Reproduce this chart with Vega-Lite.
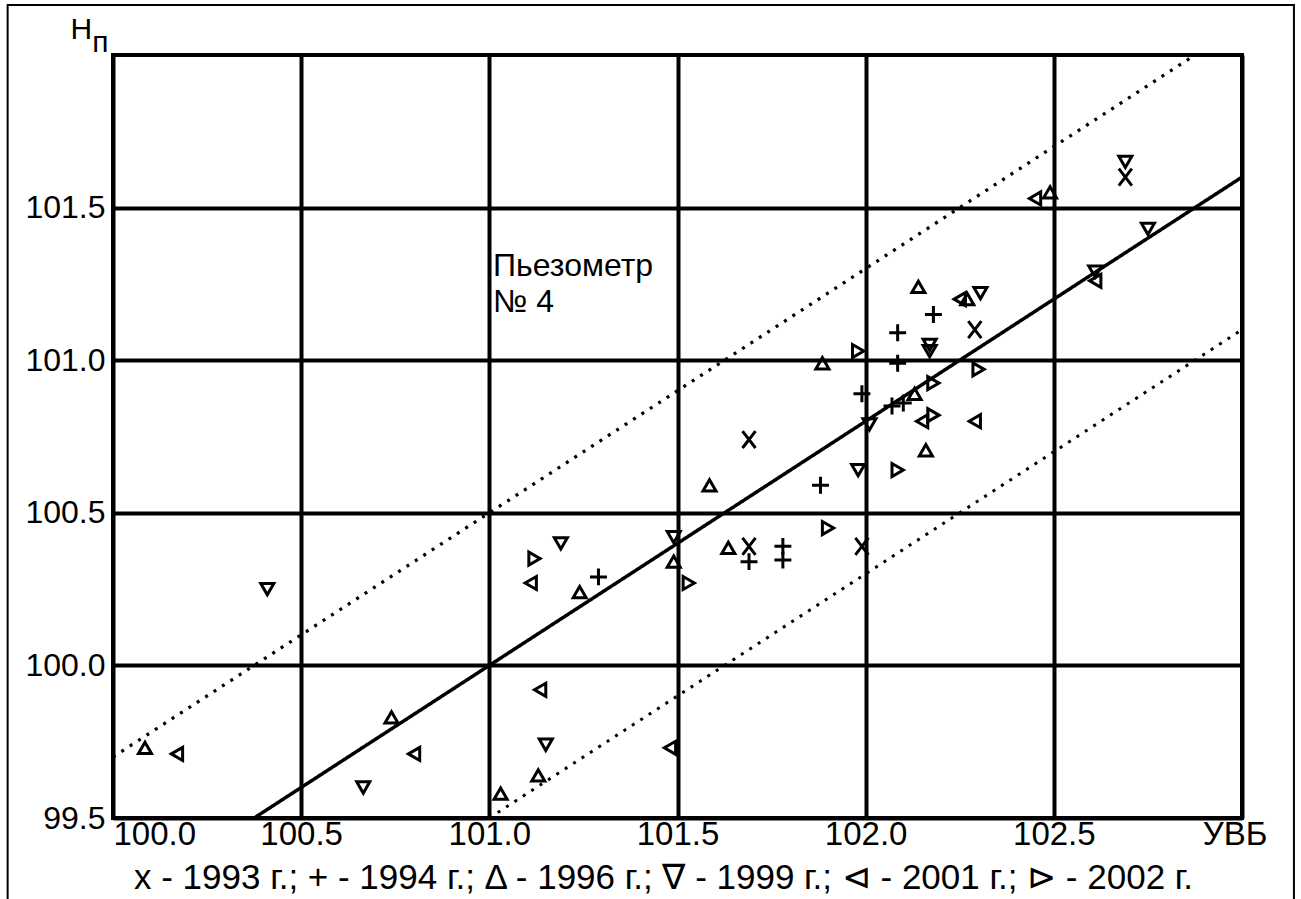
{
  "$schema": "https://vega.github.io/schema/vega-lite/v6.json",
  "width": 1129,
  "height": 763,
  "autosize": "none",
  "padding": {"left": 113, "top": 55, "right": 59, "bottom": 81},
  "background": "white",
  "config": {
    "font": "Liberation Sans",
    "view": {"stroke": "black", "strokeWidth": 4},
    "axis": {
      "grid": true, "gridColor": "black", "gridWidth": 4, "gridOpacity": 1,
      "domain": false, "ticks": false, "labelColor": "black", "titleColor": "black",
      "labelFont": "Liberation Sans", "titleFont": "Liberation Sans", "titleFontWeight": "normal",
      "labelOverlap": false, "labelBound": false
    }
  },
  "datasets": {
    "points": [
      {"year": "1993", "x": 101.69, "y": 100.74},
      {"year": "1993", "x": 101.69, "y": 100.39},
      {"year": "1993", "x": 101.99, "y": 100.39},
      {"year": "1993", "x": 102.29, "y": 101.10},
      {"year": "1993", "x": 102.69, "y": 101.60},
      {"year": "1994", "x": 101.29, "y": 100.29},
      {"year": "1994", "x": 101.88, "y": 100.59},
      {"year": "1994", "x": 101.69, "y": 100.34},
      {"year": "1994", "x": 101.78, "y": 100.39},
      {"year": "1994", "x": 101.78, "y": 100.345},
      {"year": "1994", "x": 102.07, "y": 100.85},
      {"year": "1994", "x": 102.10, "y": 100.86},
      {"year": "1994", "x": 102.18, "y": 101.15},
      {"year": "1994", "x": 102.085, "y": 101.09},
      {"year": "1994", "x": 102.085, "y": 100.99},
      {"year": "1994", "x": 101.99, "y": 100.89},
      {"year": "1996", "x": 100.085, "y": 99.73},
      {"year": "1996", "x": 100.74, "y": 99.83},
      {"year": "1996", "x": 101.24, "y": 100.24},
      {"year": "1996", "x": 101.49, "y": 100.34},
      {"year": "1996", "x": 101.13, "y": 99.64},
      {"year": "1996", "x": 101.03, "y": 99.58},
      {"year": "1996", "x": 101.585, "y": 100.59},
      {"year": "1996", "x": 101.635, "y": 100.385},
      {"year": "1996", "x": 102.14, "y": 101.24},
      {"year": "1996", "x": 101.885, "y": 100.99},
      {"year": "1996", "x": 102.13, "y": 100.89},
      {"year": "1996", "x": 102.16, "y": 100.705},
      {"year": "1996", "x": 102.27, "y": 101.20},
      {"year": "1996", "x": 102.49, "y": 101.55},
      {"year": "1999", "x": 100.41, "y": 100.25},
      {"year": "1999", "x": 100.665, "y": 99.60},
      {"year": "1999", "x": 101.19, "y": 100.40},
      {"year": "1999", "x": 101.49, "y": 100.42},
      {"year": "1999", "x": 101.15, "y": 99.74},
      {"year": "1999", "x": 102.01, "y": 100.79},
      {"year": "1999", "x": 101.98, "y": 100.64},
      {"year": "1999", "x": 102.17, "y": 101.05},
      {"year": "1999", "x": 102.17, "y": 101.03},
      {"year": "1999", "x": 102.305, "y": 101.22},
      {"year": "1999", "x": 102.69, "y": 101.65},
      {"year": "1999", "x": 102.75, "y": 101.43},
      {"year": "1999", "x": 102.61, "y": 101.29},
      {"year": "2001", "x": 100.17, "y": 99.71},
      {"year": "2001", "x": 100.80, "y": 99.71},
      {"year": "2001", "x": 101.11, "y": 100.27},
      {"year": "2001", "x": 101.135, "y": 99.92},
      {"year": "2001", "x": 101.48, "y": 99.73},
      {"year": "2001", "x": 102.15, "y": 100.80},
      {"year": "2001", "x": 102.29, "y": 100.80},
      {"year": "2001", "x": 102.25, "y": 101.20},
      {"year": "2001", "x": 102.45, "y": 101.53},
      {"year": "2001", "x": 102.61, "y": 101.26},
      {"year": "2002", "x": 101.12, "y": 100.35},
      {"year": "2002", "x": 101.53, "y": 100.27},
      {"year": "2002", "x": 102.085, "y": 100.64},
      {"year": "2002", "x": 101.90, "y": 100.45},
      {"year": "2002", "x": 101.98, "y": 101.03},
      {"year": "2002", "x": 102.30, "y": 100.97},
      {"year": "2002", "x": 102.18, "y": 100.925},
      {"year": "2002", "x": 102.18, "y": 100.82}
    ],
    "lines": [
      {"kind": "fit", "x": 100.375, "y": 99.5},
      {"kind": "fit", "x": 103.0, "y": 101.6},
      {"kind": "upper", "x": 100.0, "y": 99.7},
      {"kind": "upper", "x": 102.875, "y": 102.0},
      {"kind": "lower", "x": 101.0, "y": 99.5},
      {"kind": "lower", "x": 103.0, "y": 101.1}
    ],
    "notes": [
      {"label": "Пьезометр\n№ 4", "x": 101.01, "y": 101.275}
    ]
  },
  "layer": [
    {
      "data": {"name": "points"},
      "mark": {"type": "point", "filled": false, "stroke": "black", "strokeWidth": 3, "size": 170, "opacity": 1},
      "encoding": {
        "x": {
          "field": "x", "type": "quantitative",
          "scale": {"domain": [100, 103], "nice": false, "zero": false},
          "axis": {
            "values": [100, 100.5, 101, 101.5, 102, 102.5, 103],
            "labelExpr": "datum.value == 103 ? 'УВБ' : format(datum.value, '.1f')",
            "labelFontSize": 33, "labelPadding": 0, "labelFlush": true, "labelFlushOffset": 0,
            "labelOffset": {"condition": {"test": "datum.value == 103", "value": 25}, "value": 0},
            "title": "x - 1993 г.; + - 1994 г.; Δ - 1996 г.; ∇ - 1999 г.; ⊲ - 2001 г.; ⊳ - 2002 г.",
            "titleFontSize": 35, "titleX": 550, "titleY": 70, "titleBaseline": "alphabetic", "titleAlign": "center"
          }
        },
        "y": {
          "field": "y", "type": "quantitative",
          "scale": {"domain": [99.5, 102], "nice": false, "zero": false},
          "axis": {
            "values": [99.5, 100, 100.5, 101, 101.5],
            "format": ".1f",
            "labelFontSize": 32, "labelPadding": 8,
            "title": "Н", "titleAngle": 0, "titleAlign": "left", "titleBaseline": "alphabetic",
            "titleX": -43, "titleY": -17, "titleFontSize": 30
          }
        },
        "shape": {
          "field": "year", "type": "nominal",
          "scale": {
            "domain": ["1993", "1994", "1996", "1999", "2001", "2002"],
            "range": [
              "M-1.0,-1.3L1.0,1.3M-1.0,1.3L1.0,-1.3",
              "M-1.3,0L1.3,0M0,-1.3L0,1.3",
              "triangle-up", "triangle-down", "triangle-left", "triangle-right"
            ]
          },
          "legend": null
        }
      }
    },
    {
      "data": {"name": "lines"},
      "mark": {"type": "line", "color": "black", "clip": true},
      "encoding": {
        "x": {"field": "x", "type": "quantitative", "scale": {"domain": [100, 103], "nice": false, "zero": false}},
        "y": {"field": "y", "type": "quantitative", "scale": {"domain": [99.5, 102], "nice": false, "zero": false}},
        "detail": {"field": "kind"},
        "strokeDash": {"field": "kind", "type": "nominal", "scale": {"domain": ["fit", "upper", "lower"], "range": [[1, 0], [3, 7], [3, 7]]}, "legend": null},
        "strokeWidth": {"field": "kind", "type": "nominal", "scale": {"domain": ["fit", "upper", "lower"], "range": [3.5, 3, 3]}, "legend": null}
      }
    },
    {
      "data": {"name": "notes"},
      "mark": {"type": "text", "align": "left", "baseline": "alphabetic", "fontSize": 32, "lineBreak": "\n", "lineHeight": 36, "color": "black", "font": "Liberation Sans"},
      "encoding": {
        "x": {"field": "x", "type": "quantitative", "scale": {"domain": [100, 103], "nice": false, "zero": false}},
        "y": {"field": "y", "type": "quantitative", "scale": {"domain": [99.5, 102], "nice": false, "zero": false}},
        "text": {"field": "label"}
      }
    },
    {
      "data": {"values": [{}]},
      "mark": {"type": "rect", "filled": false, "stroke": "black", "strokeWidth": 2, "clip": false},
      "encoding": {
        "x": {"datum": 99.72, "type": "quantitative"},
        "x2": {"datum": 103.138},
        "y": {"datum": 102.164, "type": "quantitative"},
        "y2": {"datum": 99.2}
      }
    },
    {
      "data": {"values": [{}]},
      "mark": {"type": "text", "align": "left", "baseline": "alphabetic", "fontSize": 30, "color": "black", "font": "Liberation Sans", "clip": false},
      "encoding": {
        "x": {"datum": 99.945, "type": "quantitative"},
        "y": {"datum": 102.01, "type": "quantitative"},
        "text": {"value": "п"}
      }
    }
  ]
}
